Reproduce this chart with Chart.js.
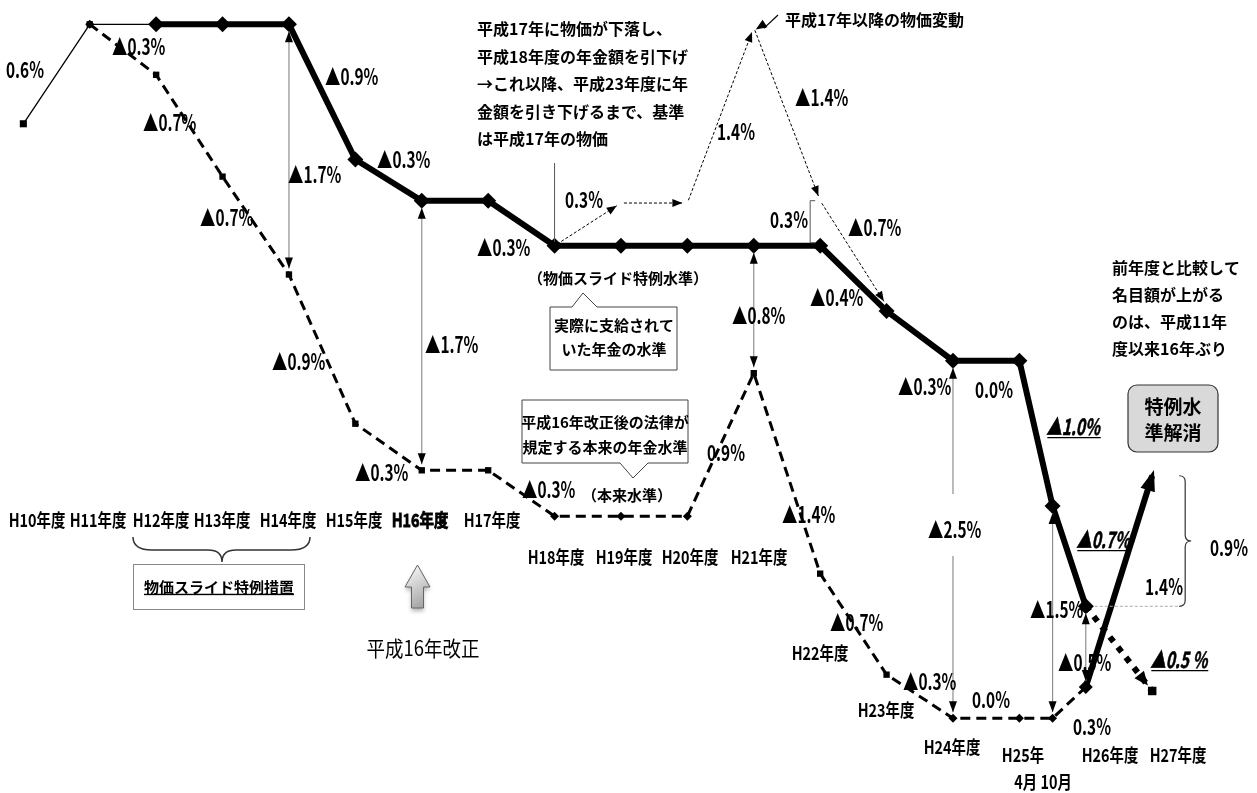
<!DOCTYPE html>
<html><head><meta charset="utf-8">
<script src="https://cdn.jsdelivr.net/npm/chart.js@4"></script>
<style>html,body{margin:0;padding:0;background:#fff;}canvas{display:block;}</style>
</head><body>
<canvas id="c" width="1257" height="793"></canvas>
<script>
// ---------- data (levels; index units, diagram is not to scale) ----------
const specialYears = [10,11,12,13,14,15,16,17,18,19,20,21,22,23,24,25,25.5,26];
const specialLevel = [85.1,97.9,97.9,97.9,97.9,80.5,75.2,75.2,69.4,69.4,69.4,69.4,69.4,61.0,54.6,54.6,35.9,23.0];
const honraiYears  = [11,12,13,14,15,16,17,18,19,20,21,22,23,24,25,25.5,26];
const honraiLevel  = [97.9,91.4,78.3,65.7,46.5,40.5,40.5,34.6,34.6,34.6,53.0,27.2,14.2,8.6,8.6,8.6,12.6];
const priceYears   = [18,19,20,21,22,23];
const priceLevel   = [69.4,74.9,74.9,97.5,75.2,61.7];
const h27Years        = [26,27];
const h27SpecialLevel = [23.0,12.1];
const h27NewLevel     = [12.6,39.8];
const gapYears  = [14,16,21,24,25.5,26];
const gapLabels = ['▲1.7%','▲1.7%','▲0.8%','▲2.5%','▲1.5%','▲0.5%'];
const categoryLabels = ['H10年度','H11年度','H12年度','H13年度','H14年度','H15年度','H16年度','H17年度','H18年度','H19年度','H20年度','H21年度','H22年度','H23年度','H24年度','H25年','H26年度','H27年度'];
const h25SubLabel = '4月 10月';
const specialChangeLabels = ['0.6%','▲0.9%','▲0.3%','▲0.3%','▲0.4%','▲0.3%','0.0%','▲1.0%','▲0.7%','▲0.5 %'];
const honraiChangeLabels  = ['▲0.3%','▲0.7%','▲0.7%','▲0.9%','▲0.3%','▲0.3%','0.9%','▲1.4%','▲0.7%','▲0.3%','0.0%','0.3%','1.4%'];
const priceChangeLabels   = ['0.3%','1.4%','▲1.4%','▲0.7%','0.3%'];
const restoreLabel = '0.9%';

const FONT = '"Noto Sans CJK JP","Noto Sans",sans-serif';
function txt(ctx, s, x, y, o) {
  o = o || {};
  const size = o.size || 16, weight = o.weight || 'normal', sx = o.sx || 1, align = o.align || 'left';
  ctx.save();
  ctx.font = weight + ' ' + size + 'px ' + FONT;
  ctx.fillStyle = o.color || '#000';
  ctx.textBaseline = 'middle';
  ctx.textAlign = align;
  ctx.translate(x, y);
  if (o.italic) ctx.transform(1, 0, -0.2, 1, 0, 0);
  ctx.scale(sx, 1);
  ctx.fillText(s, 0, 0);
  if (o.heavy) { ctx.strokeStyle = ctx.fillStyle; ctx.lineWidth = o.heavy; ctx.strokeText(s, 0, 0); }
  if (o.underline) {
    const w = ctx.measureText(s).width;
    const x0 = align === 'left' ? 0 : align === 'center' ? -w / 2 : -w;
    if (o.italic) ctx.transform(1, 0, 0.2, 1, 0, 0);
    ctx.fillRect(x0, size * 0.45, w, 1.4);
  }
  ctx.restore();
}
function head(ctx, x, y, ang, len, w, color) {
  ctx.save(); ctx.fillStyle = color || '#000';
  ctx.translate(x, y); ctx.rotate(ang);
  ctx.beginPath(); ctx.moveTo(0, 0); ctx.lineTo(-len, -w / 2); ctx.lineTo(-len, w / 2); ctx.closePath(); ctx.fill();
  ctx.restore();
}
function pct(ctx, s, x, y, o) {
  o = o || {};
  txt(ctx, s, x, y, Object.assign({size: 22, sx: 0.7, weight: 'bold'}, o));
}

const annotations = {
  id: 'annotations',
  afterDatasetsDraw(chart) {
    const ctx = chart.ctx;
    const X = v => chart.scales.x.getPixelForValue(v);
    const Y = v => chart.scales.y.getPixelForValue(v);
    const spAt = yr => specialLevel[specialYears.indexOf(yr)];
    const hoAt = yr => honraiLevel[honraiYears.indexOf(yr)];

    // --- vertical gap arrows between the two levels ---
    gapYears.forEach((yr, i) => {
      const x = X(yr), y1 = Y(spAt(yr)) + 7, y2 = Y(hoAt(yr)) - 6;
      ctx.save(); ctx.strokeStyle = '#8f8f8f'; ctx.lineWidth = 1.2;
      ctx.beginPath();
      if (yr === 24) { ctx.moveTo(x, y1); ctx.lineTo(x, 494); ctx.moveTo(x, 556); ctx.lineTo(x, y2); }
      else { ctx.moveTo(x, y1); ctx.lineTo(x, y2); }
      ctx.stroke(); ctx.restore();
      head(ctx, x, y1, -Math.PI / 2, 11, 8);
      head(ctx, x, y2, Math.PI / 2, 11, 8);
    });

    // --- price movement dotted arrows ---
    ctx.save(); ctx.strokeStyle = '#000'; ctx.lineWidth = 1; ctx.setLineDash([3, 2]);
    for (let i = 0; i < priceYears.length - 1; i++) {
      const ax = X(priceYears[i]), ay = Y(priceLevel[i]), bx = X(priceYears[i + 1]), by = Y(priceLevel[i + 1]);
      const d = Math.hypot(bx - ax, by - ay), ux = (bx - ax) / d, uy = (by - ay) / d;
      const sx = ax + ux * 3, sy = ay + uy * 3, ex = bx - ux * 5, ey = by - uy * 5;
      ctx.beginPath(); ctx.moveTo(sx, sy); ctx.lineTo(ex, ey); ctx.stroke();
      ctx.setLineDash([]); head(ctx, ex, ey, Math.atan2(uy, ux), 10, 8); ctx.setLineDash([3, 2]);
    }
    ctx.restore();
    // arrow from the caption to the price peak
    {
      const px = X(21) + 2, py = Y(97.5) + 2;
      ctx.save(); ctx.strokeStyle = '#000'; ctx.lineWidth = 1.2;
      ctx.beginPath(); ctx.moveTo(778, 15); ctx.lineTo(px + 8, py - 1); ctx.stroke(); ctx.restore();
      head(ctx, px, py, Math.atan2(py - 15, px - 778), 11, 9);
    }
    // 0.3% bracket at H22
    {
      const x = X(22) - 10, t = Y(75.2), b = Y(69.4) - 3;
      ctx.save(); ctx.strokeStyle = '#555'; ctx.lineWidth = 1;
      ctx.beginPath(); ctx.moveTo(x + 5, t); ctx.lineTo(x, t); ctx.lineTo(x, b); ctx.lineTo(x + 5, b); ctx.stroke(); ctx.restore();
    }
    // vertical connector from text to H18
    ctx.save(); ctx.strokeStyle = '#555'; ctx.lineWidth = 1;
    ctx.beginPath(); ctx.moveTo(X(18), 163); ctx.lineTo(X(18), Y(69.4) - 4); ctx.stroke(); ctx.restore();

    // --- H27 arrows ---
    {
      const ax = X(h27Years[0]), ay = Y(h27NewLevel[0]), bx = X(h27Years[1]), by = Y(h27NewLevel[1]);
      const ang = Math.atan2(by - ay, bx - ax);
      head(ctx, bx + Math.cos(ang) * 6, by + Math.sin(ang) * 6, ang, 21, 15);
      const cx = X(h27Years[0]), cy = Y(h27SpecialLevel[0]), dx = X(h27Years[1]), dy = Y(h27SpecialLevel[1]);
      const a2 = Math.atan2(dy - cy, dx - cx);
      head(ctx, dx - Math.cos(a2) * 7, dy - Math.sin(a2) * 7, a2, 14, 12);
      // brace 0.9%
      const bxr = X(27) + 33, top = by, bot = Y(h27SpecialLevel[0]), mid = (top + bot) / 2;
      ctx.save(); ctx.strokeStyle = '#333'; ctx.lineWidth = 1.2;
      ctx.beginPath();
      ctx.moveTo(bxr - 6, top); ctx.quadraticCurveTo(bxr, top, bxr, top + 6);
      ctx.lineTo(bxr, mid - 6); ctx.quadraticCurveTo(bxr, mid, bxr + 6, mid);
      ctx.quadraticCurveTo(bxr, mid, bxr, mid + 6);
      ctx.lineTo(bxr, bot - 6); ctx.quadraticCurveTo(bxr, bot, bxr - 6, bot);
      ctx.stroke();
      ctx.strokeStyle = '#aaa'; ctx.lineWidth = 1; ctx.setLineDash([3, 2]);
      ctx.beginPath(); ctx.moveTo(X(26) + 9, bot); ctx.lineTo(bxr - 7, bot); ctx.stroke();
      ctx.restore();
    }

    // --- percentage labels ---
    const spPos = [[6,70],[325,77],[377,160],[477,248],[810,298],[898,387],[975,390],[1048,427,1],[1078,540,1],[1152,660,1]];
    specialChangeLabels.forEach((s, i) => { const p = spPos[i]; pct(ctx, s, p[0], p[1], p[2] ? {italic: true, underline: true, heavy: 0.6} : {}); });
    const hoPos = [[112,47],[143,123],[200,218],[272,362],[355,473],[522,490],[707,453],[782,515],[830,623],[903,682],[972,700],[1073,727],[1145,587]];
    honraiChangeLabels.forEach((s, i) => pct(ctx, s, hoPos[i][0], hoPos[i][1]));
    const prPos = [[565,200],[717,132],[795,98],[848,228],[770,220]];
    priceChangeLabels.forEach((s, i) => pct(ctx, s, prPos[i][0], prPos[i][1]));
    const gpPos = [[288,175],[425,345],[732,316],[928,530],[1030,610],[1058,663]];
    gapLabels.forEach((s, i) => pct(ctx, s, gpPos[i][0], gpPos[i][1]));
    pct(ctx, restoreLabel, 1210, 548);

    // --- category labels ---
    const labPos = [[37,520],[98,520],[161,520],[222,520],[288,520],[354,520],[420,520],[492,520],[556,557],[624,557],[690,557],[759,557],[820,653],[886,710],[952,747],[1023,755],[1110,755],[1178,755]];
    categoryLabels.forEach((s, i) => txt(ctx, s, labPos[i][0], labPos[i][1], {size: 18, sx: 0.8, align: 'center', weight: 'bold', heavy: i === 6 ? 0.8 : 0}));
    txt(ctx, h25SubLabel, 1043, 782, {size: 18, sx: 0.8, align: 'center', weight: 'bold'});

    // --- text blocks ---
    const block1 = ['平成17年に物価が下落し、','平成18年度の年金額を引下げ','→これ以降、平成23年度に年','金額を引き下げるまで、基準','は平成17年の物価'];
    block1.forEach((s, i) => txt(ctx, s, 477, 29 + i * 27.5, {size: 16, weight: 'bold'}));
    txt(ctx, '平成17年以降の物価変動', 785, 20, {size: 16, weight: 'bold'});
    const block2 = ['前年度と比較して','名目額が上がる','のは、平成11年','度以来16年ぶり'];
    block2.forEach((s, i) => txt(ctx, s, 1112, 268 + i * 27, {size: 16, weight: 'bold'}));
    txt(ctx, '（物価スライド特例水準）', 618, 278, {size: 15, weight: 'bold', align: 'center'});
    txt(ctx, '（本来水準）', 627, 495, {size: 15, weight: 'bold', align: 'center'});

    // callout boxes
    ctx.save(); ctx.fillStyle = '#fff'; ctx.strokeStyle = '#444'; ctx.lineWidth = 1;
    ctx.beginPath();
    ctx.moveTo(550, 307); ctx.lineTo(572, 307); ctx.lineTo(583, 293); ctx.lineTo(597, 307); ctx.lineTo(677, 307);
    ctx.lineTo(677, 370); ctx.lineTo(550, 370); ctx.closePath(); ctx.fill(); ctx.stroke();
    ctx.beginPath();
    ctx.moveTo(522, 400); ctx.lineTo(688, 400); ctx.lineTo(688, 463); ctx.lineTo(648, 463); ctx.lineTo(633, 478);
    ctx.lineTo(620, 463); ctx.lineTo(522, 463); ctx.closePath(); ctx.fill(); ctx.stroke();
    ctx.restore();
    txt(ctx, '実際に支給されて', 614, 325, {size: 15, weight: 'bold', align: 'center'});
    txt(ctx, 'いた年金の水準', 614, 349, {size: 15, weight: 'bold', align: 'center'});
    txt(ctx, '平成16年改正後の法律が', 605, 422, {size: 15, weight: 'bold', align: 'center'});
    txt(ctx, '規定する本来の年金水準', 605, 447, {size: 15, weight: 'bold', align: 'center'});

    // 特例水準解消 box
    ctx.save(); ctx.fillStyle = '#d9d9d9'; ctx.strokeStyle = '#333'; ctx.lineWidth = 1.2;
    ctx.beginPath(); ctx.roundRect(1128, 385, 90, 67, 9); ctx.fill(); ctx.stroke(); ctx.restore();
    txt(ctx, '特例水', 1173, 407, {size: 19, align: 'center', weight: 'bold'});
    txt(ctx, '準解消', 1173, 433, {size: 19, align: 'center', weight: 'bold'});

    // brace + 物価スライド特例措置 box
    ctx.save(); ctx.strokeStyle = '#333'; ctx.lineWidth = 1.5;
    ctx.beginPath();
    ctx.moveTo(133, 537); ctx.quadraticCurveTo(133, 550, 152, 550); ctx.lineTo(208, 550);
    ctx.quadraticCurveTo(222, 550, 222, 562); ctx.quadraticCurveTo(222, 550, 236, 550);
    ctx.lineTo(291, 550); ctx.quadraticCurveTo(310, 550, 310, 537); ctx.stroke();
    ctx.strokeStyle = '#888'; ctx.lineWidth = 1; ctx.strokeRect(133.5, 564.5, 171, 45);
    ctx.restore();
    txt(ctx, '物価スライド特例措置', 219, 587, {size: 15, weight: 'bold', align: 'center', underline: true});

    // block up-arrow + 平成16年改正
    ctx.save();
    ctx.shadowColor = 'rgba(0,0,0,0.3)'; ctx.shadowBlur = 4; ctx.shadowOffsetY = 3;
    const g = ctx.createLinearGradient(405, 565, 430, 608);
    g.addColorStop(0, '#ffffff'); g.addColorStop(1, '#9a9a9a');
    ctx.fillStyle = g; ctx.strokeStyle = '#666'; ctx.lineWidth = 1;
    ctx.beginPath();
    ctx.moveTo(417.5, 565); ctx.lineTo(430, 587); ctx.lineTo(423.5, 587); ctx.lineTo(423.5, 608);
    ctx.lineTo(411.5, 608); ctx.lineTo(411.5, 587); ctx.lineTo(405, 587); ctx.closePath();
    ctx.fill(); ctx.shadowColor = 'transparent'; ctx.stroke();
    ctx.restore();
    txt(ctx, '平成16年改正', 423, 648, {size: 21, sx: 0.88, align: 'center'});
  }
};

const toPts = (xs, ys) => xs.map((x, i) => ({x: x, y: ys[i]}));
const chart = new Chart(document.getElementById('c'), {
  type: 'line',
  data: {
    datasets: [
      { // price slide special level (actually paid)
        data: toPts(specialYears, specialLevel),
        borderColor: '#000', backgroundColor: '#000', borderWidth: 6,
        segment: { borderWidth: c => c.p0DataIndex < 2 ? 1.3 : 6 },
        pointStyle: c => c.dataIndex === 0 ? 'rect' : 'rectRot',
        pointRadius: c => c.dataIndex === 0 ? 5 : (c.dataIndex === 1 ? 4.5 : 8),
        pointBackgroundColor: '#000', pointBorderWidth: 0, borderJoinStyle: 'miter'
      },
      { // statutory original level
        data: toPts(honraiYears, honraiLevel),
        borderColor: '#000', borderWidth: 3, borderDash: [10, 6],
        pointStyle: c => (c.dataIndex >= 7 && c.dataIndex <= 9) || c.dataIndex >= 13 ? 'rectRot' : 'rect',
        pointRadius: 4.5, pointBackgroundColor: '#000', pointBorderWidth: 0
      },
      { // H26 -> H27 special level removal (dotted)
        data: toPts(h27Years, h27SpecialLevel),
        borderColor: '#000', borderWidth: 6, borderDash: [6, 7], borderCapStyle: 'butt',
        pointStyle: 'rect', pointRadius: c => c.dataIndex === 1 ? 6 : 0,
        pointBackgroundColor: '#000', pointBorderWidth: 0
      },
      { // H27 new level (thick arrow)
        data: toPts(h27Years, h27NewLevel),
        borderColor: '#000', borderWidth: 6, pointRadius: c => c.dataIndex === 0 ? 7 : 0,
        pointStyle: 'rectRot', pointBackgroundColor: '#000', pointBorderWidth: 0
      }
    ]
  },
  options: {
    responsive: false, animation: false, devicePixelRatio: 1,
    layout: { padding: 0 },
    plugins: { legend: { display: false }, tooltip: { enabled: false } },
    elements: { line: { tension: 0 } },
    scales: {
      x: { type: 'linear', min: 9.769, max: 28.458, display: false },
      y: { min: 0, max: 100, display: false }
    }
  },
  plugins: [annotations]
});
</script>
</body></html>
